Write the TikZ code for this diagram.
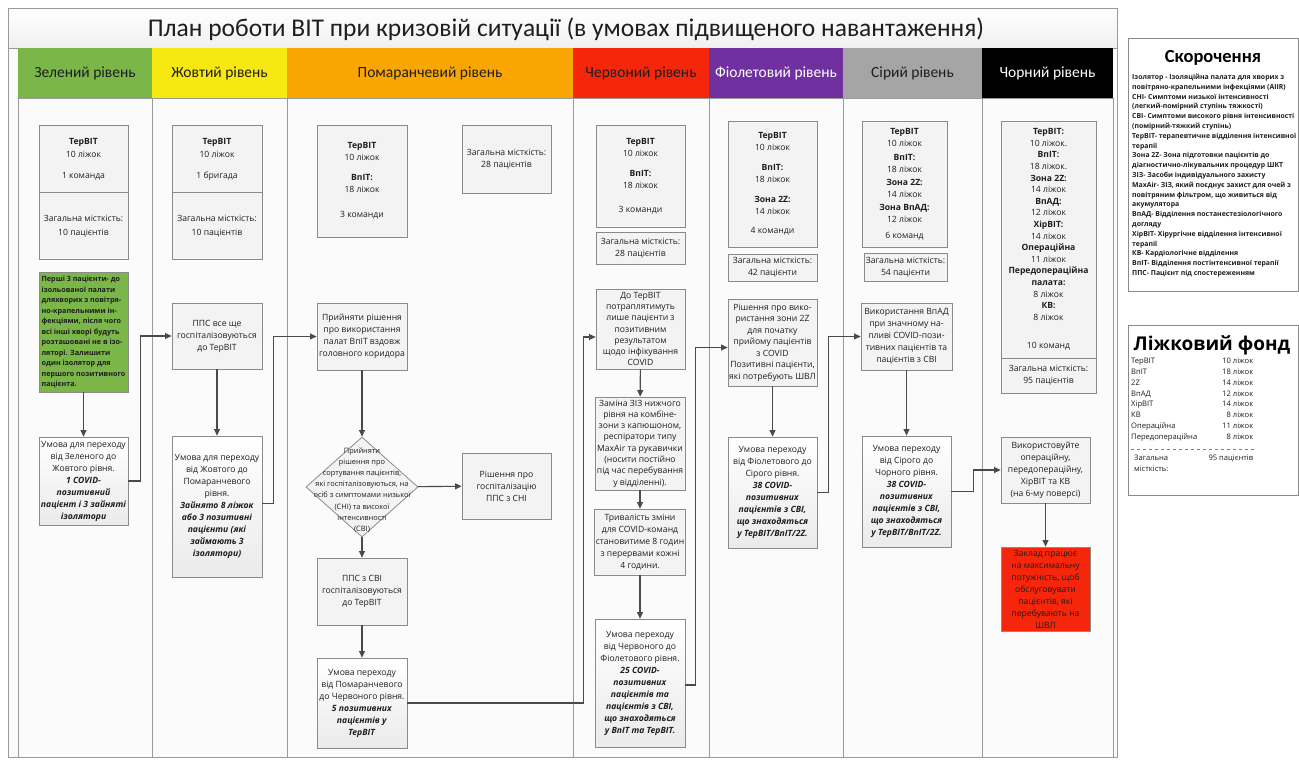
\documentclass[tikz,border=0pt]{standalone}
\usepackage{fontspec}
\setmainfont{Open Sans}
\newfontfamily\titlefont{Carlito}
\usetikzlibrary{arrows.meta,shapes.geometric}

\definecolor{lgreen}{HTML}{7AB648}
\definecolor{lyellow}{HTML}{F7E80F}
\definecolor{lorange}{HTML}{F9A602}
\definecolor{lred}{HTML}{F5260C}
\definecolor{lpurple}{HTML}{7030A0}
\definecolor{lgray}{HTML}{A5A5A5}
\definecolor{boxfill}{HTML}{F3F3F3}
\definecolor{boxline}{HTML}{8A8A8A}
\definecolor{wirec}{HTML}{4A4A4A}
\definecolor{lanebg}{HTML}{FBFBFB}
\definecolor{laneline}{HTML}{9A9A9A}
\definecolor{txt}{HTML}{1E1E1E}

\newcommand\embi[1]{\textbf{\textit{#1}}}

\begin{document}
\begin{tikzpicture}[x=1pt,y=-1pt,
  box/.style={draw=boxline, fill=boxfill, line width=0.8pt, inner sep=1pt,
    align=center, text=txt, font=\fontsize{8.6}{12}\selectfont},
  cond/.style={box, top color=white, bottom color=gray!16},
  wire/.style={draw=wirec, line width=1.1pt, -{Triangle[length=6.5pt,width=6pt]}},
  hdr/.style={minimum height=50pt, inner sep=0pt,
    font=\titlefont\fontsize{15.5}{17}\selectfont},
  lane/.style={draw=laneline, line width=0.7pt, fill=lanebg}
]
\useasboundingbox (0,0) rectangle (1299,766);
\fill[white] (0,0) rectangle (1299,766);

% frame and title band
\draw[laneline, line width=0.7pt, fill=lanebg] (8,8) rectangle (1117,757);
\shade[top color=white, bottom color=gray!12] (8.5,8.5) rectangle (1116.5,48);
\draw[laneline, line width=0.7pt] (8,8) rectangle (1117,48);
\node[font=\titlefont\fontsize{25.5}{27}\selectfont, text=txt] (title) at (566,29)
  {План роботи ВІТ при кризовій ситуації (в умовах підвищеного навантаження)};

% swim lanes
\draw[lane] (18,98) rectangle (152,757);
\draw[lane] (152,98) rectangle (287,757);
\draw[lane] (287,98) rectangle (573,757);
\draw[lane] (573,98) rectangle (709,757);
\draw[lane] (709,98) rectangle (843,757);
\draw[lane] (843,98) rectangle (982,757);
\draw[lane] (982,98) rectangle (1113,757);

% lane headers
\node[hdr, fill=lgreen, minimum width=134pt, text=txt] (h1) at (85,73) {Зелений рівень};
\node[hdr, fill=lyellow, minimum width=135pt, text=txt] (h2) at (219.5,73) {Жовтий рівень};
\node[hdr, fill=lorange, minimum width=286pt, text=txt] (h3) at (430,73) {Помаранчевий рівень};
\node[hdr, fill=lred, minimum width=136pt, text=txt] (h4) at (641,73) {Червоний рівень};
\node[hdr, fill=lpurple, minimum width=134pt, text=white] (h5) at (776,73) {Фіолетовий рівень};
\node[hdr, fill=lgray, minimum width=139pt, text=txt] (h6) at (912.5,73) {Сірий рівень};
\node[hdr, fill=black, minimum width=131pt, text=white] (h7) at (1047.5,73) {Чорний рівень};

% ---- green level
\node[box, minimum width=89pt, minimum height=68pt] (g1) at (83.5,159)
  {\textbf{ТерВІТ}\\[1pt]10 ліжок\\[9pt]1 команда};
\node[box, minimum width=89pt, minimum height=67pt, font=\fontsize{8.6}{13.5}\selectfont] (g2) at (83.5,226)
  {Загальна місткість:\\10 пацієнтів};
\node[box, fill=lgreen, minimum width=89pt, minimum height=120pt, align=left,
  font=\bfseries\fontsize{7.2}{10.5}\selectfont] (g3) at (83.5,332)
  {Перші 3 пацієнти- до\\ізольованої палати\\дляхворих з повітря-\\но-крапельними ін-\\фекціями, після чого\\всі інші хворі будуть\\розташовані не в ізо-\\ляторі. Залишити\\один ізолятор для\\першого позитивного\\пацієнта.};
\node[cond, minimum width=89pt, minimum height=88pt] (g4) at (83.5,481)
  {Умова для переходу\\від Зеленого до\\Жовтого рівня.\\\embi{1 COVID-}\\\embi{позитивний}\\\embi{пацієнт і 3 зайняті}\\\embi{ізолятори}};

% ---- yellow level
\node[box, minimum width=90pt, minimum height=68pt] (y1) at (217,159)
  {\textbf{ТерВІТ}\\[1pt]10 ліжок\\[9pt]1 бригада};
\node[box, minimum width=90pt, minimum height=67pt, font=\fontsize{8.6}{13.5}\selectfont] (y2) at (217,226)
  {Загальна місткість:\\10 пацієнтів};
\node[box, minimum width=90pt, minimum height=66pt] (y3) at (217,336)
  {ППС все ще\\госпіталізовуються\\до ТерВІТ};
\node[cond, minimum width=90pt, minimum height=141pt] (y4) at (217,506.5)
  {Умова для переходу\\від Жовтого до\\Помаранчевого\\рівня.\\\embi{Зайнято 8 ліжок}\\\embi{або 3 позитивні}\\\embi{пацієнти (які}\\\embi{займають 3}\\\embi{ізолятори)}};

% ---- orange level
\node[box, minimum width=90pt, minimum height=112pt] (o1) at (362,181)
  {\textbf{ТерВІТ}\\10 ліжок\\[8pt]\textbf{ВпІТ:}\\18 ліжок\\[13pt]3 команди};
\node[box, minimum width=89pt, minimum height=68pt] (o2) at (506.5,159)
  {Загальна місткість:\\28 пацієнтів};
\node[box, minimum width=90pt, minimum height=67pt] (o3) at (362,336.5)
  {Прийняти рішення\\про використання\\палат ВпІТ вздовж\\головного коридора};
\node[diamond, draw=boxline, fill=boxfill, line width=0.8pt, inner sep=0pt,
  minimum width=112pt, minimum height=100pt] (o4) at (362,487) {};
\node[align=center, text=txt, font=\fontsize{7.4}{11.2}\selectfont] (o4t) at (362,490)
  {Прийняти\\рішення про\\сортування пацієнтів,\\які госпіталізовуються, на\\осіб з симптомами низької\\(СНІ) та високої\\інтенсивності\\(СВІ)};
\node[box, minimum width=89pt, minimum height=66pt] (o5) at (506.5,486)
  {Рішення про\\госпіталізацію\\ППС з СНІ};
\node[box, minimum width=90pt, minimum height=67pt] (o6) at (362,591.5)
  {ППС з СВІ\\госпіталізовуються\\до ТерВІТ};
\node[cond, minimum width=90pt, minimum height=90pt] (o7) at (362,703)
  {Умова переходу\\від Помаранчевого\\до Червоного рівня.\\\embi{5 позитивних}\\\embi{пацієнтів у}\\\embi{ТерВІТ}};

% ---- red level
\node[box, minimum width=89pt, minimum height=102pt] (r1) at (640.5,176)
  {\textbf{ТерВІТ}\\10 ліжок\\[8pt]\textbf{ВпІТ:}\\18 ліжок\\[12pt]3 команди};
\node[box, minimum width=89pt, minimum height=32pt] (r2) at (640.5,248)
  {Загальна місткість:\\28 пацієнтів};
\node[box, minimum width=89pt, minimum height=80pt, font=\fontsize{8.6}{11.2}\selectfont] (r3) at (640.5,329)
  {До ТерВІТ\\потраплятимуть\\лише пацієнти з\\позитивним\\результатом\\щодо інфікування\\COVID};
\node[box, minimum width=90pt, minimum height=93pt, font=\fontsize{8.6}{11.3}\selectfont] (r4) at (640,443.5)
  {Заміна ЗІЗ нижчого\\рівня на комбіне-\\зони з капюшоном,\\респіратори типу\\MaxAir та рукавички\\(носити постійно\\під час перебування\\у відділенні).};
\node[box, minimum width=90pt, minimum height=66pt] (r5) at (640,542)
  {Тривалість зміни\\для COVID-команд\\становитиме 8 годин\\з перервами кожні\\4 години.};
\node[cond, minimum width=90pt, minimum height=128pt] (r6) at (640,683)
  {Умова переходу\\від Червоного до\\Фіолетового рівня.\\\embi{25 COVID-}\\\embi{позитивних}\\\embi{пацієнтів та}\\\embi{пацієнтів з СВІ,}\\\embi{що знаходяться}\\\embi{у ВпІТ та ТерВІТ.}};

% ---- purple level
\node[box, minimum width=89pt, minimum height=126pt] (p1) at (772.5,184)
  {\textbf{ТерВІТ}\\10 ліжок\\[8pt]\textbf{ВпІТ:}\\18 ліжок\\[8pt]\textbf{Зона 2Z:}\\14 ліжок\\[7pt]4 команди};
\node[box, minimum width=89pt, minimum height=27pt] (p2) at (772.5,267.5)
  {Загальна місткість:\\42 пацієнти};
\node[box, minimum width=89pt, minimum height=87pt, font=\fontsize{8.6}{11.5}\selectfont] (p3) at (772.5,342.5)
  {Рішення про вико-\\ристання зони 2Z\\для початку\\прийому пацієнтів\\з COVID\\Позитивні пацієнти,\\які потребують ШВЛ};
\node[cond, minimum width=89pt, minimum height=111pt] (p4) at (772.5,492.5)
  {Умова переходу\\від Фіолетового до\\Сірого рівня.\\\embi{38 COVID-}\\\embi{позитивних}\\\embi{пацієнтів з СВІ,}\\\embi{що знаходяться}\\\embi{у ТерВІТ/ВпІТ/2Z.}};

% ---- gray level
\node[box, minimum width=85pt, minimum height=126pt, font=\fontsize{8.6}{12.5}\selectfont] (s1) at (904.5,184)
  {\textbf{ТерВІТ}\\10 ліжок\\[1pt]\textbf{ВпІТ:}\\18 ліжок\\\textbf{Зона 2Z:}\\14 ліжок\\\textbf{Зона ВпАД:}\\12 ліжок\\[3pt]6 команд};
\node[box, minimum width=83pt, minimum height=28pt] (s2) at (905.5,267)
  {Загальна місткість:\\54 пацієнти};
\node[box, minimum width=91pt, minimum height=67pt] (s3) at (906.5,336.5)
  {Використання ВпАД\\при значному на-\\пливі COVID-пози-\\тивних пацієнтів та\\пацієнтів з СВІ};
\node[cond, minimum width=89pt, minimum height=111pt] (s4) at (906.5,491.5)
  {Умова переходу\\від Сірого до\\Чорного рівня.\\\embi{38 COVID-}\\\embi{позитивних}\\\embi{пацієнтів з СВІ,}\\\embi{що знаходяться}\\\embi{у ТерВІТ/ВпІТ/2Z.}};

% ---- black level
\node[box, minimum width=95pt, minimum height=237pt, font=\fontsize{8.6}{11.6}\selectfont] (b1) at (1048.5,239.5)
  {\textbf{ТерВІТ:}\\10 ліжок.\\\textbf{ВпІТ:}\\18 ліжок.\\\textbf{Зона 2Z:}\\14 ліжок\\\textbf{ВпАД:}\\12 ліжок\\\textbf{ХірВІТ:}\\14 ліжок\\\textbf{Операційна}\\11 ліжок\\\textbf{Передопераційна}\\\textbf{палата:}\\8 ліжок\\\textbf{КВ:}\\8 ліжок\\[17pt]10 команд};
\node[box, minimum width=95pt, minimum height=35pt] (b2) at (1048.5,375.5)
  {Загальна місткість:\\95 пацієнтів};
\node[box, minimum width=89pt, minimum height=66pt] (b3) at (1045.5,470)
  {Використовуйте\\операційну,\\передопераційну,\\ХірВІТ та КВ\\(на 6-му поверсі)};
\node[box, fill=lred, minimum width=89pt, minimum height=84pt] (b4) at (1045.5,589)
  {Заклад працює\\на максимальну\\потужність, щоб\\обслуговувати\\пацієнтів, які\\перебувають на\\ШВЛ};

% ---- connectors
\draw[wire] (g3) -- (g4);
\draw[wire] (g4.east) -- ++(12,0) |- (y3.west);
\draw[wire] (y3) -- (y4);
\draw[wire] ([yshift=3pt]y4.east) -- ++(11,0) |- (o3.west);
\draw[wire] (o3) -- (o4);
\draw[wire] (o4) -- (o5);
\draw[wire] (o4) -- (o6);
\draw[wire] (o6) -- (o7);
\draw[wire] (o7.east) -- ++(176,0) |- ([yshift=-8pt]r3.west);
\draw[wire] (r3) -- (r4);
\draw[wire] (r4) -- (r5);
\draw[wire] (r5) -- (r6);
\draw[wire] ([yshift=-2pt]r6.east) -- ++(10,0) |- ([yshift=-5pt]p3.west);
\draw[wire] (p3) -- (p4);
\draw[wire] (p4.east) -- ++(11,0) |- (s3.west);
\draw[wire] (s3) -- (s4);
\draw[wire] (s4.east) -- ++(22,0) |- (b3.west);
\draw[wire] (b3) -- (b4);

% ---- abbreviations
\node[draw=boxline, fill=white, line width=0.7pt, minimum width=170pt, minimum height=253pt,
  inner sep=0pt] (abbr) at (1213.5,164.5) {};
\node[font=\titlefont\bfseries\fontsize{18.5}{20}\selectfont, text=black] (abbrh) at (1213,58) {Скорочення};
\node[anchor=north west, align=left, inner sep=0pt, text=txt,
  font=\bfseries\fontsize{6.9}{9.8}\selectfont] (abbrt) at (1132,74)
  {Ізолятор - Ізоляційна палата для хворих з\\
   повітряно-крапельними інфекціями (AIIR)\\
   СНІ- Симптоми низької інтенсивності\\
   (легкий-помірний ступінь тяжкості)\\
   СВІ- Симптоми високого рівня інтенсивності\\
   (помірний-тяжкий ступінь)\\
   ТерВІТ- терапевтичне відділення інтенсивної\\
   терапії\\
   Зона 2Z- Зона підготовки пацієнтів до\\
   діагностично-лікувальних процедур ШКТ\\
   ЗІЗ- Засоби індивідуального захисту\\
   MaxAir- ЗІЗ, який поєднує захист для очей з\\
   повітряним фільтром, що живиться від\\
   акумулятора\\
   ВпАД- Відділення постанестезіологічного\\
   догляду\\
   ХірВІТ- Хірургічне відділення інтенсивної\\
   терапії\\
   КВ- Кардіологічне відділення\\
   ВпІТ- Відділення постінтенсивної терапії\\
   ППС- Пацієнт під спостереженням};

% ---- bed fund
\node[draw=boxline, fill=white, line width=0.7pt, minimum width=170pt, minimum height=170pt,
  inner sep=0pt] (beds) at (1213.5,410) {};
\node[font=\bfseries\fontsize{19}{21}\selectfont, text=black] (bedsh) at (1212,345) {Ліжковий фонд};
\node[anchor=north west, align=left, inner sep=0pt, text=txt,
  font=\fontsize{7.6}{10.8}\selectfont] (bedst) at (1131,358)
  {\makebox[122pt]{ТерВІТ\hfill 10 ліжок}\\
   \makebox[122pt]{ВпІТ\hfill 18 ліжок}\\
   \makebox[122pt]{2Z\hfill 14 ліжок}\\
   \makebox[122pt]{ВпАД\hfill 12 ліжок}\\
   \makebox[122pt]{ХірВІТ\hfill 14 ліжок}\\
   \makebox[122pt]{КВ\hfill 8 ліжок}\\
   \makebox[122pt]{Операційна\hfill 11 ліжок}\\
   \makebox[122pt]{Передопераційна\hfill 8 ліжок}};
\draw[gray, dashed, line width=0.5pt] (1131,449) -- (1255,449);
\node[anchor=north west, align=left, inner sep=0pt, text=txt,
  font=\fontsize{7.6}{11}\selectfont] (bedsum) at (1134,455)
  {\makebox[119pt]{Загальна\hfill 95 пацієнтів}\\місткість:};
\end{tikzpicture}
\end{document}
